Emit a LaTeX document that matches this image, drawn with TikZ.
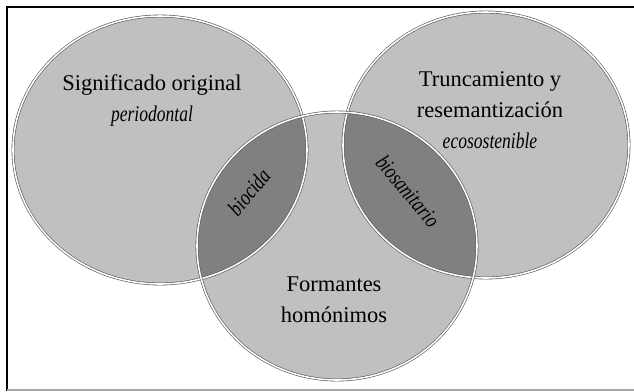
\documentclass[tikz,border=0pt]{standalone}
\usepackage{fontspec}
\setmainfont{Liberation Serif}[ItalicFeatures={FakeStretch=0.78}]
\usepackage{xcolor}
\usepackage{tikz}
\usetikzlibrary{calc}
\usetikzlibrary{positioning}

\definecolor{setgray}{HTML}{C0C0C0}
\definecolor{lensgray}{HTML}{808080}
\definecolor{rimgray}{HTML}{5A5A5A}

\begin{document}
\begin{tikzpicture}[x=0.025cm,y=-0.025cm,
		set/.style={fill=setgray},
		lens/.style={fill=lensgray},
		rim/.style={draw=rimgray,line width=0.45pt,double=white,double distance=1.1pt},
		label/.style={align=center,inner sep=0pt,font=\fontsize{16}{22}\selectfont}]
		\useasboundingbox (0,0) rectangle (634,391);
		% frame
		\draw[line width=1.2pt] (7,391) -- (7,7) -- (634,7);
		\draw[line width=1.2pt,black!35] (7,390) -- (634,390);
		% centres of the three sets
		\coordinate (cL) at (160,150);
		\coordinate (cR) at (486,145);
		\coordinate (cB) at (337,246);
		\fill[set] (cL) ellipse [x radius=147,y radius=134];
		\fill[set] (cR) ellipse [x radius=143,y radius=133];
		\fill[set] (cB) ellipse [x radius=140,y radius=134];
		% overlaps
		\begin{scope}
			\clip (cL) ellipse [x radius=147,y radius=134];
			\fill[lens] (cB) ellipse [x radius=140,y radius=134];
		\end{scope}
		\begin{scope}
			\clip (cR) ellipse [x radius=143,y radius=133];
			\fill[lens] (cB) ellipse [x radius=140,y radius=134];
		\end{scope}
		\draw[rim] (cL) ellipse [x radius=147,y radius=134];
		\draw[rim] (cR) ellipse [x radius=143,y radius=133];
		\draw[rim] (cB) ellipse [x radius=140,y radius=134];
		% texts
		\node[label] (original) at (152,100) {Significado original\\\textit{periodontal}};
		\node[label] (truncado) at (490,110) {Truncamiento y\\resemantización\\\textit{ecosostenible}};
		\node[label] (formantes) at (334,300) {Formantes\\homónimos};
		\node[label,rotate=50] (biocida) at (249,192) {\textit{biocida}};
		\node[label,rotate=-50] (biosanitario) at (408,191) {\textit{biosanitario}};
	\end{tikzpicture}
\end{document}
